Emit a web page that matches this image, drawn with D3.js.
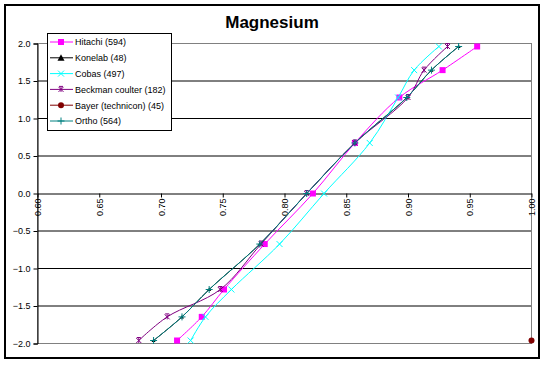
<!DOCTYPE html>
<html><head><meta charset="utf-8">
<script src="https://cdn.jsdelivr.net/npm/d3@7"></script>
<style>body{margin:0;background:#fff}svg{display:block}text{font-family:Arial,"Liberation Sans",sans-serif}</style>
</head><body>
<svg id="c" width="545" height="366"></svg>
<script>
const zLevels = [-1.96, -1.645, -1.28, -0.674, 0, 0.674, 1.28, 1.645, 1.96];
const hitachi = [0.713, 0.733, 0.751, 0.784, 0.823, 0.857, 0.893, 0.928, 0.956];
const konelab = [0.694, 0.717, 0.739, 0.780, 0.818, 0.857, 0.899, 0.919, 0.941];
const cobas   = [0.724, 0.736, 0.757, 0.796, 0.832, 0.869, 0.892, 0.905, 0.925];
const beckman = [0.682, 0.705, 0.748, 0.781, 0.818, 0.857, 0.900, 0.913, 0.932];
const bayerZ  = [-1.96];
const bayer   = [1.0];
const ortho   = [0.694, 0.717, 0.739, 0.780, 0.818, 0.857, 0.899, 0.919, 0.941];
const seriesNames = ["Hitachi (594)", "Konelab (48)", "Cobas (497)", "Beckman coulter (182)", "Bayer (technicon) (45)", "Ortho (564)"];
const xTicks = [0.60, 0.65, 0.70, 0.75, 0.80, 0.85, 0.90, 0.95, 1.00];
const yTicks = [-2.0, -1.5, -1.0, -0.5, 0.0, 0.5, 1.0, 1.5, 2.0];

const series = [
  {name: seriesNames[0], xs: hitachi, zs: zLevels, color: "#FF00FF", marker: "square"},
  {name: seriesNames[1], xs: konelab, zs: zLevels, color: "#000000", marker: "triangle"},
  {name: seriesNames[2], xs: cobas, zs: zLevels, color: "#00FFFF", marker: "x"},
  {name: seriesNames[3], xs: beckman, zs: zLevels, color: "#800080", marker: "star"},
  {name: seriesNames[4], xs: bayer, zs: bayerZ, color: "#800000", marker: "circle"},
  {name: seriesNames[5], xs: ortho, zs: zLevels, color: "#008080", marker: "plus"}
];

const svg = d3.select("#c");
const x = d3.scaleLinear().domain([0.6, 1.0]).range([37.5, 531.5]);
const y = d3.scaleLinear().domain([-2, 2]).range([343.5, 43.5]);

svg.append("rect").attr("x", 5).attr("y", 5).attr("width", 534).attr("height", 353)
  .attr("fill", "#fff").attr("stroke", "#000").attr("stroke-width", 2);

svg.append("text").attr("x", 272).attr("y", 28).attr("text-anchor", "middle")
  .attr("font-size", 17).attr("font-weight", "bold").text("Magnesium");

svg.append("g").selectAll("line").data(yTicks.filter(t => t > -2 && t < 2 && t !== 0)).join("line")
  .attr("x1", x(0.6)).attr("x2", x(1.0)).attr("y1", d => y(d)).attr("y2", d => y(d))
  .attr("stroke", "#000").attr("stroke-width", 1);

svg.append("rect").attr("x", x(0.6)).attr("y", y(2)).attr("width", x(1) - x(0.6)).attr("height", y(-2) - y(2))
  .attr("fill", "none").attr("stroke", "#808080").attr("stroke-width", 1);

const yAxis = d3.axisLeft(y).tickValues(yTicks).tickFormat(d3.format(".1f")).tickSize(4).tickPadding(3);
const gy = svg.append("g").attr("transform", `translate(${x(0.6)},0)`).call(yAxis);
gy.select(".domain").attr("stroke", "#000");
gy.selectAll(".tick line").attr("stroke", "#000");
gy.selectAll("text").attr("font-size", 9).attr("font-family", "Arial, 'Liberation Sans', sans-serif").attr("fill", "#000");

const xAxis = d3.axisBottom(x).tickValues(xTicks).tickFormat(d3.format(".2f")).tickSize(4).tickSizeOuter(0);
const gx = svg.append("g").attr("transform", `translate(0,${y(0)})`).call(xAxis);
gx.select(".domain").attr("stroke", "#000");
gx.selectAll(".tick line").attr("stroke", "#000");
gx.selectAll("text").attr("font-size", 9).attr("font-family", "Arial, 'Liberation Sans', sans-serif").attr("fill", "#000")
  .attr("transform", "rotate(-90)").attr("text-anchor", "end").attr("x", -5).attr("y", 0).attr("dy", "0.35em");

function markerPath(type, small) {
  switch (type) {
    case "square": return "M-3,-3H3V3H-3Z";
    case "triangle": return small ? "M0,-2L2,1.5L-2,1.5Z" : "M0,-3.5L3.5,3L-3.5,3Z";
    case "x": return "M-3,-3L3,3M3,-3L-3,3";
    case "star": return "M-2.5,-2.5L2.5,2.5M2.5,-2.5L-2.5,2.5M0,-2.5V2.5M-2,-3H2";
    case "plus": return "M-3.5,0H3.5M0,-3.5V3.5";
    case "circle": return "M3,0A3,3 0 1 1 -3,0A3,3 0 1 1 3,0Z";
  }
}
const filled = {square: true, triangle: true, circle: true};

const line = d3.line().curve(d3.curveCatmullRom.alpha(0.5)).x(d => x(d[0])).y(d => y(d[1]));

const gPlot = svg.append("g");
series.forEach(s => {
  const pts = s.xs.map((v, i) => [v, s.zs[i]]);
  if (pts.length > 1) {
    gPlot.append("path").attr("d", line(pts)).attr("fill", "none").attr("stroke", s.color).attr("stroke-width", 1);
  }
  gPlot.selectAll(null).data(pts).join("path")
    .attr("transform", d => `translate(${x(d[0])},${y(d[1])})`)
    .attr("d", markerPath(s.marker, true))
    .attr("fill", filled[s.marker] ? s.color : "none")
    .attr("stroke", filled[s.marker] ? "none" : s.color).attr("stroke-width", 1);
});

const lg = svg.append("g");
lg.append("rect").attr("x", 47.5).attr("y", 33.5).attr("width", 124).attr("height", 97)
  .attr("fill", "#fff").attr("stroke", "#000").attr("stroke-width", 1);
series.forEach((s, i) => {
  const ry = 42 + i * 15.8;
  lg.append("line").attr("x1", 50).attr("x2", 73).attr("y1", ry).attr("y2", ry).attr("stroke", s.color).attr("stroke-width", 1);
  lg.append("path").attr("transform", `translate(61,${ry})`).attr("d", markerPath(s.marker, false))
    .attr("fill", filled[s.marker] ? s.color : "none").attr("stroke", filled[s.marker] ? "none" : s.color);
  lg.append("text").attr("x", 75).attr("y", ry + 3.3).attr("font-size", 9).text(s.name);
});
</script>
</body></html>
